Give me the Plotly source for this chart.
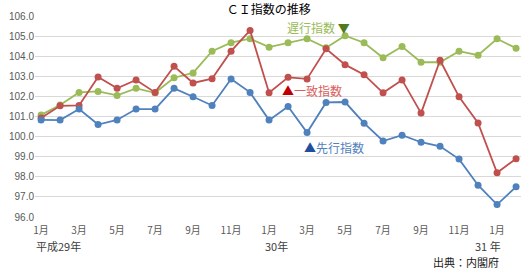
import plotly.graph_objects as go

categories = list(range(26))  # 平成29年1月 ... 31年2月
tick_idx = list(range(0, 26, 2))
tick_labels = ["1月","3月","5月","7月","9月","11月","1月","3月","5月","7月","9月","11月","1月"]

leading = [100.83, 100.82, 101.37, 100.60, 100.83, 101.37, 101.37, 102.40, 101.98, 101.55, 102.87, 102.20,
           100.82, 101.50, 100.20, 101.70, 101.72, 100.67, 99.78, 100.07, 99.72, 99.52, 98.88, 97.58,
           96.62, 97.50]
coincident = [100.92, 101.53, 101.55, 102.97, 102.40, 102.82, 102.20, 103.50, 102.67, 102.88, 104.25, 105.28,
              102.18, 102.95, 102.87, 104.37, 103.58, 103.08, 102.18, 102.82, 101.17, 103.80, 101.98, 100.68,
              98.20, 98.90]
lagging = [101.08, 101.57, 102.20, 102.25, 102.05, 102.40, 102.18, 102.93, 103.17, 104.25, 104.67, 104.87,
           104.45, 104.67, 104.87, 104.42, 105.02, 104.67, 103.92, 104.48, 103.70, 103.70, 104.25, 104.05,
           104.87, 104.40]

FONT = "Noto Sans CJK JP"
fig = go.Figure()
for name, vals, col in [("遅行指数", lagging, "#9BBB59"),
                        ("一致指数", coincident, "#C0504D"),
                        ("先行指数", leading, "#4F81BD")]:
    fig.add_trace(go.Scatter(x=categories, y=vals, name=name, mode="lines+markers",
                             line=dict(color=col, width=1.8),
                             marker=dict(color=col, size=7), showlegend=False))

fig.update_layout(
    width=522, height=269,
    margin=dict(l=35, r=1, t=16, b=52),
    paper_bgcolor="white", plot_bgcolor="white",
    font=dict(family=FONT, size=10, color="#595959"),
    title=dict(text="ＣＩ指数の推移", x=0.515, xanchor="center", y=0.962, yanchor="middle",
               font=dict(family=FONT, size=12, color="#000000")),
    xaxis=dict(range=[-0.32, 25.26], tickmode="array", tickvals=tick_idx, ticktext=tick_labels,
               showgrid=False, zeroline=False, showline=False, ticks="", ticklabelstandoff=6,
               tickfont=dict(family=FONT, size=10, color="#595959")),
    yaxis=dict(range=[96, 106], tickmode="linear", tick0=96, dtick=1, tickformat=".1f",
               showgrid=True, gridcolor="#D9D9D9", gridwidth=1.3, zeroline=False, showline=False,
               ticks="", tickfont=dict(family="Liberation Sans", size=10, color="#595959")),
)

annots = [
    dict(x=-0.32, text="平成29年", xanchor="left"),
    dict(x=12.4, text="30年", xanchor="center"),
    dict(x=23.5, text="31 年", xanchor="center"),
]
for a in annots:
    fig.add_annotation(x=a["x"], y=-0.142, xref="x", yref="paper", text=a["text"], showarrow=False,
                       xanchor=a["xanchor"], yanchor="middle", borderpad=0,
                       font=dict(family=FONT, size=11, color="#404040"))
fig.add_annotation(x=24.15, y=-0.222, xref="x", yref="paper", text="出典：内閣府", showarrow=False,
                   xanchor="right", yanchor="middle", borderpad=0,
                   font=dict(family=FONT, size=11, color="#202020"))

fig.add_annotation(x=14.58, y=105.45, xref="x", yref="y", showarrow=False, xanchor="center",
                   text="<span style='color:#9BBB59'>遅行指数 </span><span style='color:#4F7A1F'>▼</span>",
                   font=dict(family=FONT, size=12))
fig.add_annotation(x=14.26, y=102.3, xref="x", yref="y", showarrow=False, xanchor="center",
                   text="<span style='color:#C00000'>▲</span><span style='color:#D9605C'>一致指数</span>",
                   font=dict(family=FONT, size=12))
fig.add_annotation(x=15.42, y=99.48, xref="x", yref="y", showarrow=False, xanchor="center",
                   text="<span style='color:#1F4E9E'>▲</span><span style='color:#4F81BD'>先行指数</span>",
                   font=dict(family=FONT, size=12))

fig.write_html("out.html")
